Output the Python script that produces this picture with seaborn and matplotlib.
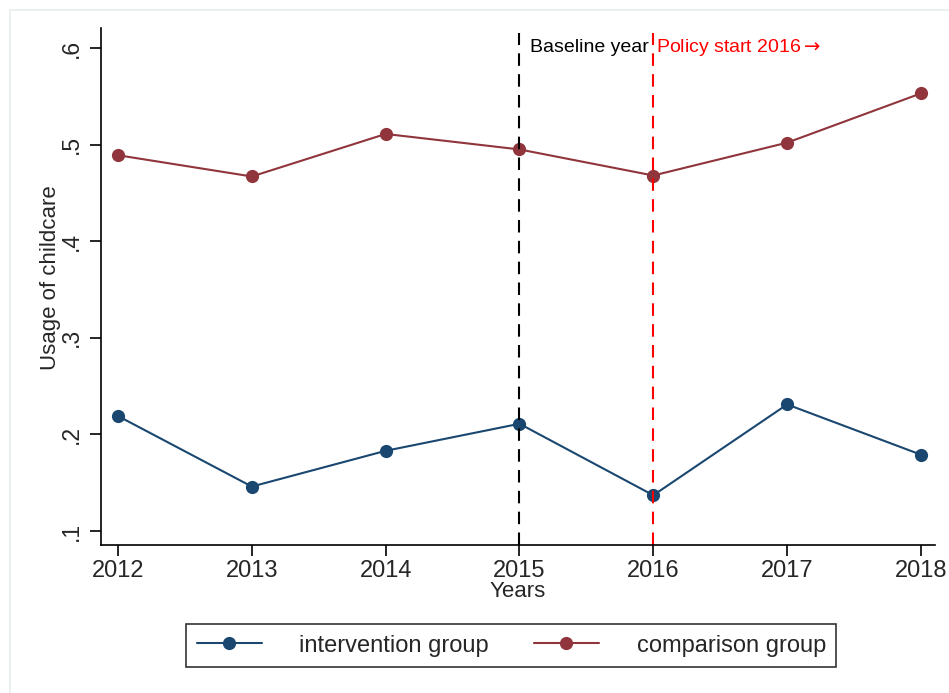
import matplotlib
matplotlib.use("Agg")
import matplotlib.pyplot as plt
import seaborn as sns
import pandas as pd
from matplotlib.patches import Rectangle

years = [2012, 2013, 2014, 2015, 2016, 2017, 2018]
intervention = [0.219, 0.146, 0.183, 0.211, 0.137, 0.231, 0.179]
comparison = [0.489, 0.467, 0.511, 0.495, 0.468, 0.502, 0.553]
groups = ["intervention group", "comparison group"]
colors = ["#1a476f", "#90353b"]
yticks = [0.1, 0.2, 0.3, 0.4, 0.5, 0.6]
ytick_labels = [".1", ".2", ".3", ".4", ".5", ".6"]

df = pd.DataFrame({
    "Years": years * 2,
    "value": intervention + comparison,
    "group": [groups[0]] * len(years) + [groups[1]] * len(years),
})

sns.set_style("white")
plt.rcParams["font.family"] = ["Liberation Sans", "DejaVu Sans"]
plt.rcParams["mathtext.fontset"] = "dejavusans"

fig = plt.figure(figsize=(9.49, 6.93), dpi=100)
fig.patches.append(Rectangle((10 / 949, -0.1), 1.2, 1 - 10 / 693 + 0.1,
                             transform=fig.transFigure, fill=False,
                             edgecolor="#e6ecee", linewidth=1.2))
ax = fig.add_axes([101 / 949, 1 - 545 / 693, (935 - 101) / 949, (545 - 28) / 693])

sns.lineplot(data=df, x="Years", y="value", hue="group", hue_order=groups,
             palette=colors, marker="o", markersize=9.5, markeredgewidth=0,
             linewidth=1.5, ax=ax)

ax.axvline(2015, color="black", linestyle=(0, (6, 4)), linewidth=1.5, ymax=0.99)
ax.axvline(2016, color="red", linestyle=(0, (6, 4)), linewidth=1.5, ymax=0.99)
ax.text(2015.08, 0.6, "Baseline year", color="black", fontsize=14, va="center", ha="left")
ax.text(2016.02, 0.6, "Policy start 2016$\\rightarrow$", color="red", fontsize=14,
        va="center", ha="left")

ax.set_xlim(2011.873, 2018.105)
ax.set_ylim(0.0855, 0.6207)
ax.set_xticks(years)
ax.set_xticklabels([str(y) for y in years])
ax.set_yticks(yticks)
ax.set_yticklabels(ytick_labels, rotation=90, va="center")
ax.tick_params(axis="both", direction="out", length=8, width=1.2,
               color="black", left=True, bottom=True)
ax.tick_params(axis="x", pad=3, labelsize=17)
ax.tick_params(axis="y", pad=5, labelsize=16.5)
ax.set_xlabel("Years", fontsize=16, labelpad=-1)
ax.set_ylabel("Usage of childcare", fontsize=16)
ax.yaxis.set_label_coords(-0.048, 0.518)

for s in ["top", "right"]:
    ax.spines[s].set_visible(False)
for s in ["left", "bottom"]:
    ax.spines[s].set_color("black")
    ax.spines[s].set_linewidth(1.2)

handles, labels = ax.get_legend_handles_labels()
leg = ax.legend(handles, labels, loc="upper left", bbox_to_anchor=(0.1019, -0.153),
                ncol=2, frameon=True, fancybox=False, edgecolor="black",
                fontsize=17, handlelength=2.75, handletextpad=1.6, columnspacing=1.9,
                borderpad=0.45, borderaxespad=0)
leg.get_frame().set_linewidth(1.2)

fig.savefig("out.png", dpi=100, facecolor="white")
